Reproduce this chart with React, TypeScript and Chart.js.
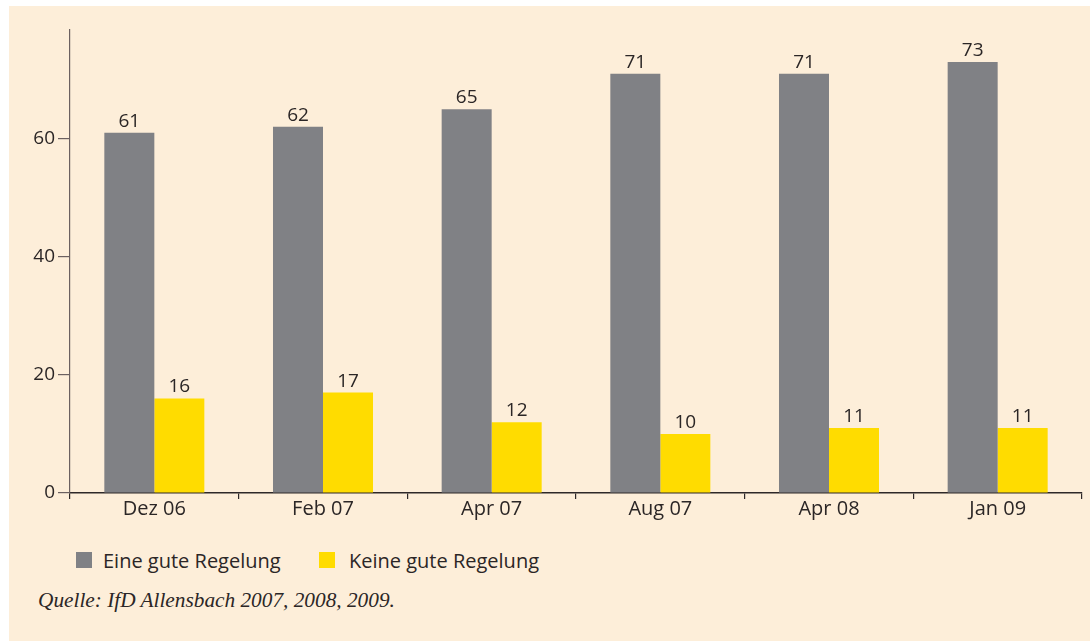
import React, { useEffect, useRef } from "react";
import { Chart, registerables } from "chart.js";

Chart.register(...registerables);

const categories = ["Dez 06", "Feb 07", "Apr 07", "Aug 07", "Apr 08", "Jan 09"];
const seriesGood = [61, 62, 65, 71, 71, 73];
const seriesBad = [16, 17, 12, 10, 11, 11];
const seriesNames = ["Eine gute Regelung", "Keine gute Regelung"];
const yTickValues = [0, 20, 40, 60];
const sourceText = "Quelle: IfD Allensbach 2007, 2008, 2009.";

const GRAY = "#808185";
const YELLOW = "#ffdc00";
const TEXT = "#2b2626";
const BG = "#fdeed9";
const FONT = "'Open Sans', 'Noto Sans', sans-serif";

const valueLabels = {
  id: "valueLabels",
  afterDatasetsDraw(chart: any) {
    const ctx = chart.ctx;
    ctx.save();
    ctx.fillStyle = TEXT;
    ctx.font = `19px ${FONT}`;
    ctx.textAlign = "center";
    ctx.textBaseline = "bottom";
    chart.data.datasets.forEach((ds: any, i: number) => {
      const meta = chart.getDatasetMeta(i);
      meta.data.forEach((el: any, j: number) => {
        ctx.fillText(String(ds.data[j]), el.x, el.y - 2);
      });
    });
    ctx.restore();
  },
};

export default function App() {
  const ref = useRef<HTMLCanvasElement>(null);
  useEffect(() => {
    if (!ref.current) return;
    const chart = new Chart(ref.current, {
      type: "bar",
      data: {
        labels: categories,
        datasets: [
          { label: seriesNames[0], data: seriesGood, backgroundColor: GRAY },
          { label: seriesNames[1], data: seriesBad, backgroundColor: YELLOW },
        ],
      },
      options: {
        responsive: false,
        animation: false,
        devicePixelRatio: 1,
        layout: { padding: { top: 24, right: 8, left: 0, bottom: 0 } },
        datasets: { bar: { categoryPercentage: 0.593, barPercentage: 1 } },
        plugins: { legend: { display: false }, tooltip: { enabled: false } },
        scales: {
          x: {
            offset: true,
            grid: {
              offset: true,
              drawOnChartArea: false,
              drawTicks: true,
              tickLength: 6,
              color: "#2e2828",
              lineWidth: 1.2,
            },
            border: { display: true, color: "#2e2828", width: 1.5 },
            ticks: { color: TEXT, font: { size: 20, family: FONT }, padding: -2, maxRotation: 0 },
            afterFit(scale: any) {
              scale.height = 37;
            },
          },
          y: {
            min: 0,
            max: 78.4,
            ticks: {
              stepSize: 20,
              color: TEXT,
              font: { size: 19, family: FONT },
              padding: 3,
            },
            afterBuildTicks(scale: any) {
              scale.ticks = yTickValues.map((v) => ({ value: v }));
            },
            grid: {
              drawOnChartArea: false,
              drawTicks: true,
              tickLength: 12,
              color: "#6b6060",
              lineWidth: 1.2,
            },
            border: { display: true, color: "#6b6060", width: 1.2 },
            afterFit(scale: any) {
              scale.width = 61;
            },
          },
        },
      },
      plugins: [valueLabels],
    });
    return () => chart.destroy();
  }, []);

  const legendItem = (color: string, label: string, left: number, gap: number) => (
    <div
      style={{
        position: "absolute",
        left,
        top: 539,
        height: 30,
        display: "flex",
        alignItems: "center",
        fontFamily: FONT,
        fontSize: 20,
        color: TEXT,
        whiteSpace: "nowrap",
      }}
    >
      <span style={{ display: "inline-block", width: 16, height: 16, background: color, marginRight: gap }} />
      <span>{label}</span>
    </div>
  );

  return (
    <div
      style={{
        position: "absolute",
        left: 9,
        top: 6,
        width: 1081,
        height: 635,
        background: BG,
        overflow: "hidden",
      }}
    >
      <canvas ref={ref} width={1081} height={524} style={{ position: "absolute", left: 0, top: 0 }} />
      {legendItem(GRAY, seriesNames[0], 67, 11)}
      {legendItem(YELLOW, seriesNames[1], 310, 14)}
      <div
        style={{
          position: "absolute",
          left: 29,
          top: 582,
          fontFamily: "'Liberation Serif', 'DejaVu Serif', serif",
          fontStyle: "italic",
          fontSize: 21.3,
          color: TEXT,
          whiteSpace: "nowrap",
        }}
      >
        {sourceText}
      </div>
    </div>
  );
}
